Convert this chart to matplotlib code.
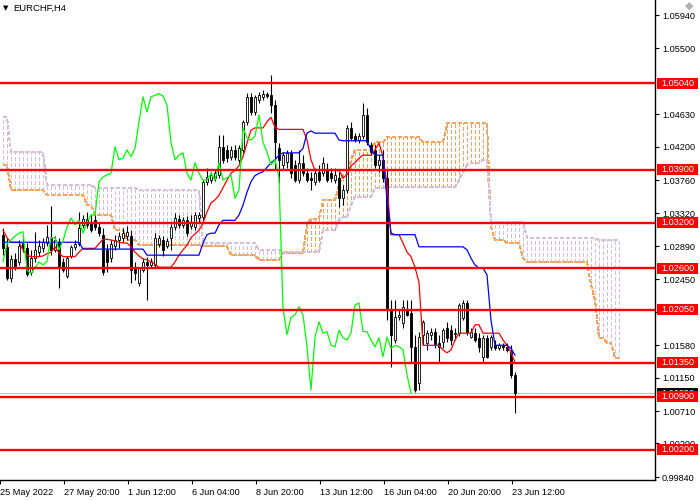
import numpy as np
import matplotlib
matplotlib.use('Agg')
import matplotlib.pyplot as plt
import matplotlib.transforms as mtransforms
from matplotlib.patches import Rectangle

plt.rcParams['font.family'] = ['Liberation Sans', 'DejaVu Sans']
plt.rcParams['lines.scale_dashes'] = False

# EURCHF H4 candles
opens = [1.0304, 1.0288, 1.0247, 1.0272, 1.0268, 1.0293, 1.0286, 1.0255, 1.0273, 1.0281,
         1.0286, 1.0293, 1.0300, 1.0284, 1.0293, 1.0268, 1.0249, 1.0276, 1.0288, 1.0292,
         1.0317, 1.0325, 1.0321, 1.0323, 1.0314, 1.0304, 1.0284, 1.0273, 1.0289, 1.0297,
         1.0300, 1.0302, 1.0302, 1.0260, 1.0240, 1.0257, 1.0268, 1.0264, 1.0264, 1.0292,
         1.0297, 1.0289, 1.0300, 1.0314, 1.0325, 1.0317, 1.0323, 1.0316, 1.0314, 1.0326,
         1.0327, 1.0374, 1.0376, 1.0379, 1.0383, 1.0420, 1.0416, 1.0407, 1.0416, 1.0403,
         1.0416, 1.0453, 1.0486, 1.0466, 1.0482, 1.0486, 1.0490, 1.0488, 1.0475, 1.0418,
         1.0396, 1.0400, 1.0412, 1.0396, 1.0376, 1.0399, 1.0385, 1.0379, 1.0374, 1.0387,
         1.0385, 1.0389, 1.0385, 1.0376, 1.0379, 1.0352, 1.0363, 1.0445, 1.0434, 1.0429,
         1.0434, 1.0462, 1.0422, 1.0416, 1.0396, 1.0403, 1.0379, 1.0205, 1.0165, 1.0195,
         1.0187, 1.0205, 1.0201, 1.0156, 1.0108, 1.0172, 1.0161, 1.0172, 1.0176, 1.0161,
         1.0162, 1.0181, 1.0178, 1.0173, 1.0174, 1.0194, 1.0214, 1.0169, 1.0174, 1.0168,
         1.0143, 1.0168, 1.0156, 1.0158, 1.0154, 1.0158, 1.0156, 1.0149, 1.0119]
highs = [1.0313, 1.0300, 1.0277, 1.0280, 1.0297, 1.0301, 1.0293, 1.0284, 1.0308, 1.0297,
         1.0300, 1.0317, 1.0342, 1.0302, 1.0300, 1.0273, 1.0276, 1.0290, 1.0297, 1.0334,
         1.0330, 1.0334, 1.0331, 1.0330, 1.0321, 1.0313, 1.0292, 1.0297, 1.0304, 1.0308,
         1.0313, 1.0316, 1.0310, 1.0268, 1.0261, 1.0273, 1.0275, 1.0273, 1.0306, 1.0304,
         1.0302, 1.0300, 1.0318, 1.0333, 1.0330, 1.0327, 1.0329, 1.0330, 1.0334, 1.0334,
         1.0376, 1.0392, 1.0387, 1.0389, 1.0436, 1.0436, 1.0422, 1.0421, 1.0422, 1.0422,
         1.0455, 1.0491, 1.0491, 1.0488, 1.0492, 1.0495, 1.0492, 1.0515, 1.0482, 1.0425,
         1.0413, 1.0416, 1.0416, 1.0403, 1.0416, 1.0409, 1.0392, 1.0387, 1.0392, 1.0396,
         1.0407, 1.0399, 1.0392, 1.0392, 1.0387, 1.0370, 1.0449, 1.0453, 1.0438, 1.0438,
         1.0478, 1.0471, 1.0426, 1.0422, 1.0409, 1.0416, 1.0389, 1.0218, 1.0218, 1.0205,
         1.0218, 1.0218, 1.0218, 1.0172, 1.0176, 1.0191, 1.0178, 1.0181, 1.0181, 1.0172,
         1.0181, 1.0189, 1.0185, 1.0181, 1.0214, 1.0218, 1.0218, 1.0181, 1.0181, 1.0174,
         1.0172, 1.0172, 1.0172, 1.0165, 1.0161, 1.0161, 1.0161, 1.0158, 1.0123]
lows = [1.0277, 1.0244, 1.0241, 1.0257, 1.0264, 1.0281, 1.0249, 1.0251, 1.0268, 1.0276,
        1.0281, 1.0289, 1.0277, 1.0281, 1.0234, 1.0255, 1.0247, 1.0273, 1.0284, 1.0289,
        1.0313, 1.0313, 1.0308, 1.0310, 1.0302, 1.0251, 1.0255, 1.0268, 1.0284, 1.0286,
        1.0294, 1.0297, 1.0240, 1.0244, 1.0236, 1.0255, 1.0218, 1.0260, 1.0260, 1.0288,
        1.0276, 1.0286, 1.0284, 1.0310, 1.0313, 1.0313, 1.0302, 1.0312, 1.0310, 1.0321,
        1.0323, 1.0370, 1.0372, 1.0375, 1.0379, 1.0399, 1.0400, 1.0403, 1.0403, 1.0399,
        1.0412, 1.0449, 1.0462, 1.0462, 1.0478, 1.0482, 1.0484, 1.0465, 1.0389, 1.0372,
        1.0389, 1.0392, 1.0379, 1.0374, 1.0372, 1.0382, 1.0374, 1.0363, 1.0370, 1.0374,
        1.0382, 1.0374, 1.0374, 1.0372, 1.0341, 1.0343, 1.0359, 1.0429, 1.0426, 1.0425,
        1.0430, 1.0422, 1.0409, 1.0392, 1.0387, 1.0374, 1.0191, 1.0129, 1.0161, 1.0191,
        1.0181, 1.0197, 1.0135, 1.0096, 1.0099, 1.0158, 1.0152, 1.0165, 1.0154, 1.0136,
        1.0154, 1.0162, 1.0158, 1.0165, 1.0170, 1.0191, 1.0172, 1.0168, 1.0162, 1.0149,
        1.0136, 1.0141, 1.0152, 1.0152, 1.0152, 1.0152, 1.0149, 1.0115, 1.0069]
closes = [1.0286, 1.0247, 1.0272, 1.0261, 1.0289, 1.0288, 1.0252, 1.0273, 1.0284, 1.0289,
          1.0294, 1.0301, 1.0284, 1.0297, 1.0260, 1.0257, 1.0273, 1.0288, 1.0292, 1.0313,
          1.0325, 1.0317, 1.0310, 1.0314, 1.0306, 1.0255, 1.0268, 1.0292, 1.0297, 1.0302,
          1.0306, 1.0308, 1.0257, 1.0253, 1.0260, 1.0268, 1.0264, 1.0269, 1.0300, 1.0300,
          1.0284, 1.0296, 1.0314, 1.0326, 1.0317, 1.0323, 1.0306, 1.0321, 1.0330, 1.0330,
          1.0374, 1.0380, 1.0383, 1.0385, 1.0420, 1.0403, 1.0405, 1.0416, 1.0407, 1.0418,
          1.0453, 1.0486, 1.0466, 1.0486, 1.0488, 1.0490, 1.0487, 1.0475, 1.0426, 1.0403,
          1.0409, 1.0412, 1.0385, 1.0376, 1.0399, 1.0385, 1.0376, 1.0376, 1.0385, 1.0376,
          1.0399, 1.0376, 1.0379, 1.0383, 1.0352, 1.0363, 1.0445, 1.0432, 1.0429, 1.0434,
          1.0462, 1.0426, 1.0413, 1.0396, 1.0403, 1.0379, 1.0207, 1.0172, 1.0195, 1.0198,
          1.0209, 1.0198, 1.0156, 1.0099, 1.0169, 1.0189, 1.0174, 1.0176, 1.0158, 1.0156,
          1.0178, 1.0168, 1.0165, 1.0174, 1.0211, 1.0214, 1.0176, 1.0176, 1.0165, 1.0156,
          1.0168, 1.0143, 1.0169, 1.0154, 1.0158, 1.0156, 1.0152, 1.0119, 1.0095]

# Ichimoku lines
tenkan = [1.0310, 1.0300, 1.0294, 1.0294, 1.0294, 1.0284, 1.0277, 1.0275, 1.0275, 1.0275,
          1.0276, 1.0279, 1.0281, 1.0288, 1.0280, 1.0275, 1.0275, 1.0275, 1.0275, 1.0281,
          1.0286, 1.0286, 1.0286, 1.0286, 1.0292, 1.0298, 1.0298, 1.0297, 1.0296, 1.0294,
          1.0293, 1.0293, 1.0288, 1.0281, 1.0276, 1.0272, 1.0271, 1.0268, 1.0265, 1.0261,
          1.0261, 1.0261, 1.0261, 1.0268, 1.0277, 1.0284, 1.0290, 1.0300, 1.0305, 1.0310,
          1.0319, 1.0334, 1.0346, 1.0350, 1.0356, 1.0366, 1.0376, 1.0385, 1.0389, 1.0395,
          1.0407, 1.0425, 1.0442, 1.0445, 1.0445, 1.0445, 1.0453, 1.0459, 1.0446, 1.0443,
          1.0443, 1.0443, 1.0443, 1.0443, 1.0443, 1.0443, 1.0429, 1.0403, 1.0389, 1.0389,
          1.0389, 1.0389, 1.0389, 1.0389, 1.0389, 1.0379, 1.0383, 1.0395, 1.0399, 1.0405,
          1.0409, 1.0409, 1.0409, 1.0416, 1.0425, 1.0407, 1.0370, 1.0304, 1.0304, 1.0304,
          1.0293, 1.0281, 1.0275, 1.0261, 1.0241, 1.0158, 1.0158, 1.0158, 1.0158, 1.0158,
          1.0152, 1.0148, 1.0152, 1.0165, 1.0174, 1.0174, 1.0174, 1.0174, 1.0185, 1.0185,
          1.0174, 1.0174, 1.0174, 1.0174, 1.0174, 1.0165, 1.0158, 1.0149, 1.0135]
kijun = [1.0294] * 20 + [1.0285] * 16 + [1.0277] * 14 + [
         1.0293, 1.0304, 1.0306, 1.0306, 1.0317, 1.0323, 1.0323, 1.0323, 1.0323, 1.0330,
         1.0343, 1.0360, 1.0374, 1.0382, 1.0385, 1.0387, 1.0393, 1.0399, 1.0403, 1.0409,
         1.0412, 1.0412, 1.0412, 1.0412, 1.0412, 1.0418, 1.0438, 1.0441, 1.0438, 1.0438,
         1.0438, 1.0438, 1.0438, 1.0438, 1.0429, 1.0428, 1.0428, 1.0428, 1.0428, 1.0428,
         1.0428, 1.0428, 1.0416, 1.0409, 1.0409, 1.0409, 1.0350, 1.0306, 1.0304, 1.0304,
         1.0304, 1.0304, 1.0304, 1.0304, 1.0288, 1.0288, 1.0288, 1.0288, 1.0288, 1.0288,
         1.0288, 1.0288, 1.0288, 1.0288, 1.0288, 1.0288, 1.0284, 1.0273, 1.0264, 1.0260,
         1.0260, 1.0251, 1.0191, 1.0158, 1.0158, 1.0158, 1.0158, 1.0154, 1.0145]

# Senkou spans (already shifted 26 bars forward)
span_a = ([1.0396] * 2 + [1.0363] * 9 + [1.0356] * 10 + [1.0343] * 2 + [1.0330] * 5
          + [1.0310] * 3 + [1.0297] * 3 + [1.0290] * 16 + [1.0289] * 7 + [1.0277] * 7
          + [1.0271] * 6 + [1.0280] * 6 + [1.0317] + [1.0325] * 3 + [1.0350] * 4 + [1.0370]
          + [1.0383] * 2 + [1.0403] + [1.0416] * 5 + [1.0426] * 3 + [1.0433] * 9
          + [1.0426] * 6 + [1.0451] * 11 + [1.0314] + [1.0297] * 3 + [1.0293] * 4
          + [1.0273] + [1.0268] * 16 + [1.0238, 1.0218, 1.0168, 1.0168, 1.0161, 1.0161,
                                         1.0141, 1.0141])
span_b = ([1.0459] * 2 + [1.0413] * 9 + [1.0370] * 12 + [1.0366] * 11 + [1.0363] * 16
          + [1.0293] * 14 + [1.0284] * 6 + [1.0281] * 10 + [1.0310] * 4 + [1.0323]
          + [1.0327] * 2 + [1.0343] + [1.0354] * 5 + [1.0366] * 3 + [1.0367] * 18
          + [1.0376, 1.0387, 1.0396, 1.0399, 1.0399, 1.0399, 1.0403, 1.0403]
          + [1.0321] * 9 + [1.0300] * 18 + [1.0297] * 6)

levels = [1.05040, 1.03900, 1.03200, 1.02600, 1.02050, 1.01350, 1.00900, 1.00200]
price_ticks = [1.05940, 1.05500, 1.04630, 1.04200, 1.03760, 1.03320, 1.02890, 1.02450,
               1.02020, 1.01580, 1.01150, 1.00710, 1.00290, 0.99840]
date_labels = ['25 May 2022', '27 May 20:00', '1 Jun 12:00', '6 Jun 04:00', '8 Jun 20:00',
               '13 Jun 12:00', '16 Jun 04:00', '20 Jun 20:00', '23 Jun 12:00']
bid = 1.00950

fig = plt.figure(figsize=(7, 5), dpi=100)
ax = fig.add_axes([0, 20 / 500, 655 / 700, 480 / 500])
ax.set_xlim(-0.75, 163)
ax.set_ylim(0.99802, 1.06138)

dots = (0, (2.2, 1.5))

# cloud as dotted vertical strokes, one per bar
ncl = len(span_a)
for i in range(ncl):
    col = '#F4A460' if span_a[i] > span_b[i] else '#D8BFD8'
    ax.vlines(i, min(span_a[i], span_b[i]), max(span_a[i], span_b[i]), color=col,
              lw=1.0, linestyles=[dots], antialiased=False, zorder=1)
ax.plot(range(ncl), span_a, color='#F4A460', lw=1.0, ls=dots, antialiased=False, zorder=1)
ax.plot(range(ncl), span_b, color='#D8BFD8', lw=1.0, ls=dots, antialiased=False, zorder=1)

ax.axhline(bid, color='#c0c0c0', lw=0.8, zorder=1.5)

# candles
n = len(closes)
for i in range(n):
    o, h, l, c = opens[i], highs[i], lows[i], closes[i]
    ax.vlines(i, l, h, color='black', lw=0.8, zorder=2)
    body = abs(c - o)
    if body < 0.00003:
        body = 0.00003
    ax.bar(i, body, bottom=min(o, c), width=0.62,
           facecolor='black' if c < o else 'white', edgecolor='black', lw=0.6,
           zorder=2.1)

# indicator lines
ax.plot(range(n), tenkan, color='#FF0000', lw=0.9, zorder=3)
ax.plot(range(n), kijun, color='#0000FF', lw=0.9, zorder=3)
ax.plot(range(n - 26), closes[26:], color='#00FF00', lw=0.9, zorder=3)

# horizontal levels
for lv in levels:
    ax.axhline(lv, color='#FF0000', lw=1.7, zorder=4)

for s in ['top', 'left']:
    ax.spines[s].set_visible(False)
ax.spines['right'].set_linewidth(1.0)
ax.spines['bottom'].set_linewidth(1.0)

ax.yaxis.tick_right()
ax.set_yticks(price_ticks)
ax.set_yticklabels(['%.5f' % t for t in price_ticks], fontsize=6.6)
ax.tick_params(axis='y', direction='out', length=3, pad=2, width=0.8)

tick_x = [-0.75 + 16 * k for k in range(len(date_labels))]
ax.set_xticks(tick_x)
ax.set_xticklabels(date_labels, fontsize=6.6, ha='left')
ax.tick_params(axis='x', direction='out', length=3, pad=3, width=0.8)

# price label boxes on the right scale
trans = mtransforms.blended_transform_factory(ax.transAxes, ax.transData)
box_h = 11 * (1.06138 - 0.99802) / 480
for lv in levels + [bid]:
    col = 'black' if lv == bid else '#FF0000'
    z = 9 if lv == bid else 10
    ax.add_patch(Rectangle((657 / 655, lv - box_h / 2), 41 / 655, box_h, transform=trans,
                           facecolor=col, edgecolor='none', clip_on=False, zorder=z))
    ax.text(661 / 655, lv, '%.5f' % lv, transform=trans, color='white', fontsize=6.6,
            va='center', ha='left', clip_on=False, zorder=z + 0.5)

fig.text(3 / 700, 1 - 8 / 500, '\u25bc', fontsize=5, va='center', ha='left',
         family=['DejaVu Sans'])
fig.text(13 / 700, 1 - 8 / 500, 'EURCHF,H4', fontsize=6.8, va='center', ha='left')
fig.text(689 / 700, 1 - 6 / 500, '\u25c6', fontsize=8, color='#b0b0b0', va='center',
         ha='center', family=['DejaVu Sans'])

fig.savefig('out.png', dpi=100)
